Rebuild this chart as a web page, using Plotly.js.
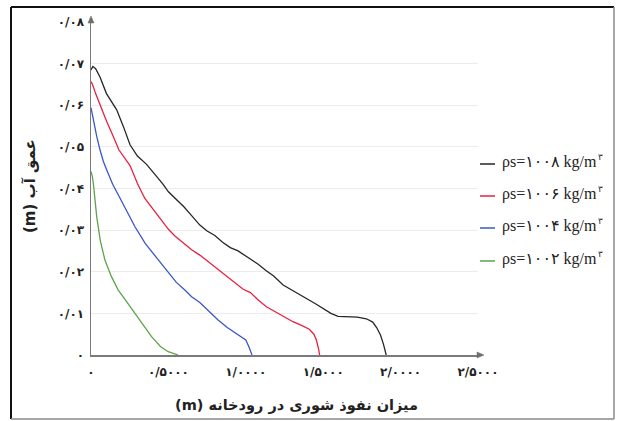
<!DOCTYPE html>
<html>
<head>
<meta charset="utf-8">
<script src="https://cdn.plot.ly/plotly-3.0.1.min.js"></script>
<style>html,body{margin:0;padding:0;background:#fff;}#chart{width:618px;height:421px;}</style>
</head>
<body>
<div id="chart"></div>
<script>
// ---- data ----
const seriesNames = ["ρs=۱۰۰۸ kg/m", "ρs=۱۰۰۶ kg/m", "ρs=۱۰۰۴ kg/m", "ρs=۱۰۰۲ kg/m"];
const unitExponent = "۳";
const seriesColors = ["#262626", "#e8203f", "#3b56c9", "#5ea24c"];

const x1008 = [0, 0.012, 0.03, 0.058, 0.10, 0.166, 0.21, 0.252, 0.30, 0.359, 0.41, 0.466, 0.50, 0.553, 0.60, 0.65, 0.703, 0.75, 0.80, 0.85, 0.90, 0.95, 0.983, 1.03, 1.08, 1.13, 1.18, 1.241, 1.30, 1.35, 1.40, 1.45, 1.50, 1.55, 1.596, 1.65, 1.72, 1.779, 1.82, 1.845, 1.87, 1.89, 1.907];
const d1008 = [0.0685, 0.0693, 0.0688, 0.0668, 0.0628, 0.0589, 0.0548, 0.0505, 0.0478, 0.0458, 0.0435, 0.0410, 0.0392, 0.0374, 0.0356, 0.0335, 0.0312, 0.0298, 0.0287, 0.0271, 0.0258, 0.0250, 0.0242, 0.0230, 0.0218, 0.0203, 0.0190, 0.0168, 0.0156, 0.0146, 0.0134, 0.0123, 0.0112, 0.0100, 0.0093, 0.0092, 0.0091, 0.0087, 0.0079, 0.0066, 0.0048, 0.0025, 0];

const x1006 = [0, 0.01, 0.03, 0.058, 0.10, 0.144, 0.18, 0.252, 0.30, 0.348, 0.40, 0.45, 0.50, 0.542, 0.60, 0.65, 0.703, 0.75, 0.80, 0.85, 0.90, 0.929, 0.983, 1.03, 1.08, 1.133, 1.19, 1.252, 1.305, 1.36, 1.41, 1.44, 1.456, 1.47, 1.477];
const d1006 = [0.0657, 0.0650, 0.0628, 0.0600, 0.0562, 0.0525, 0.0493, 0.0455, 0.0412, 0.0376, 0.0350, 0.0326, 0.0302, 0.0286, 0.0268, 0.0253, 0.0240, 0.0226, 0.0212, 0.0196, 0.0182, 0.0172, 0.0158, 0.0150, 0.0132, 0.0116, 0.0104, 0.0090, 0.0080, 0.0071, 0.0062, 0.0050, 0.0036, 0.0015, 0];

const x1004 = [0, 0.01, 0.02, 0.037, 0.058, 0.08, 0.101, 0.14, 0.176, 0.23, 0.284, 0.35, 0.434, 0.50, 0.55, 0.606, 0.65, 0.703, 0.76, 0.821, 0.88, 0.93, 0.972, 1.00, 1.02, 1.04];
const d1004 = [0.0594, 0.0575, 0.0550, 0.0525, 0.0493, 0.0465, 0.0445, 0.0410, 0.0385, 0.0345, 0.0308, 0.0268, 0.0228, 0.0198, 0.0175, 0.0156, 0.0140, 0.0126, 0.0106, 0.0084, 0.0066, 0.0054, 0.0044, 0.0036, 0.0020, 0];

const x1002 = [0, 0.008, 0.015, 0.026, 0.037, 0.06, 0.09, 0.13, 0.176, 0.23, 0.284, 0.34, 0.391, 0.45, 0.499, 0.563];
const d1002 = [0.0441, 0.0430, 0.0413, 0.0373, 0.0332, 0.0275, 0.0228, 0.0190, 0.0156, 0.0128, 0.0100, 0.0070, 0.0044, 0.0020, 0.0008, 0];

const xTickVals = [0, 0.5, 1.0, 1.5, 2.0, 2.5];
const xTickText = ["۰", "۰/۵۰۰۰", "۱/۰۰۰۰", "۱/۵۰۰۰", "۲/۰۰۰۰", "۲/۵۰۰۰"];
const yTickVals = [0, 0.01, 0.02, 0.03, 0.04, 0.05, 0.06, 0.07, 0.08];
const yTickText = ["۰", "۰/۰۱", "۰/۰۲", "۰/۰۳", "۰/۰۴", "۰/۰۵", "۰/۰۶", "۰/۰۷", "۰/۰۸"];

const xTitle = "میزان نفوذ شوری در رودخانه (m)";
const yTitle = "عمق آب (m)";

// ---- build ----
const RLE = "\u202B", PDF = "\u202C";
const LEG_SIZE = 16, LEG_FONT = "Liberation Serif";
const xs = [x1008, x1006, x1004, x1002];
const ds = [d1008, d1006, d1004, d1002];
const traces = xs.map((x, i) => ({
  type: "scatter", mode: "lines", x: x, y: ds[i], name: seriesNames[i] + unitExponent,
  line: {color: seriesColors[i], width: 1.3, shape: "linear"},
  showlegend: false, hoverinfo: "skip"
}));

// plot area geometry (pixels) used for paper-referenced decorations
const W = 618, H = 421, L = 91, R = 140, T = 22, B = 66;
const pw = W - L - R, ph = H - T - B;
const px = v => (v - L) / pw;
const py = v => (H - B - v) / ph;

const shapes = [];
const annotations = [];

// outer frame
shapes.push({type: "line", xref: "paper", yref: "paper", x0: px(11), x1: px(11), y0: py(7), y1: py(419), line: {color: "#111", width: 2}});
shapes.push({type: "line", xref: "paper", yref: "paper", x0: px(11), x1: px(614), y0: py(7), y1: py(7), line: {color: "#111", width: 2}});
shapes.push({type: "line", xref: "paper", yref: "paper", x0: px(614), x1: px(614), y0: py(7), y1: py(419), line: {color: "#8a8a8a", width: 1.5}});
shapes.push({type: "line", xref: "paper", yref: "paper", x0: px(11), x1: px(614), y0: py(419), y1: py(419), line: {color: "#8a8a8a", width: 1.5}});

// axis arrowheads (pixel-sized, anchored at axis ends)
shapes.push({type: "path", xref: "paper", yref: "paper", xsizemode: "pixel", ysizemode: "pixel", xanchor: 0, yanchor: 1,
  path: "M-3,-1 L3,-1 L0,6 Z", fillcolor: "#6e6e6e", line: {color: "#6e6e6e", width: 0.5}});
shapes.push({type: "path", xref: "paper", yref: "paper", xsizemode: "pixel", ysizemode: "pixel", xanchor: 1, yanchor: 0,
  path: "M-1,-3 L-1,3 L6,0 Z", fillcolor: "#6e6e6e", line: {color: "#6e6e6e", width: 0.5}});

// manual legend (main text + separate small exponent)
const ctx = document.createElement("canvas").getContext("2d");
ctx.font = LEG_SIZE + "px '" + LEG_FONT + "', 'DejaVu Sans'";
const legY = [164, 196, 228, 261];
const textX = 501;
seriesNames.forEach((n, i) => {
  shapes.push({type: "line", xref: "paper", yref: "paper", x0: px(480), x1: px(495), y0: py(legY[i]), y1: py(legY[i]), line: {color: seriesColors[i], width: 1.5}});
  annotations.push({xref: "paper", yref: "paper", x: px(textX), y: py(legY[i] - 2), xanchor: "left", yanchor: "middle", text: n, showarrow: false, borderpad: 0, font: {family: LEG_FONT + ", DejaVu Sans", size: LEG_SIZE, color: "#222"}});
  const w = ctx.measureText(n).width;
  annotations.push({xref: "paper", yref: "paper", x: px(textX + w + 1), y: py(legY[i] - 7), xanchor: "left", yanchor: "middle", text: unitExponent, showarrow: false, borderpad: 0, font: {family: "DejaVu Sans", size: 9, color: "#222"}});
});

// titles (right-to-left embedding so "(m)" sits on the left like the reference)
annotations.push({xref: "paper", yref: "paper", x: px(296), y: py(405), xanchor: "center", yanchor: "middle", text: RLE + xTitle + PDF, showarrow: false, font: {family: "DejaVu Sans", size: 14.5, color: "#222", weight: "bold"}});
annotations.push({xref: "paper", yref: "paper", x: px(30), y: py(186), xanchor: "center", yanchor: "middle", textangle: -90, text: RLE + yTitle + PDF, showarrow: false, font: {family: "DejaVu Sans", size: 15, color: "#222", weight: "bold"}});

const layout = {
  width: W, height: H,
  margin: {l: L, r: R, t: T, b: B, pad: 0},
  paper_bgcolor: "#ffffff", plot_bgcolor: "#ffffff",
  showlegend: false,
  xaxis: {
    range: [0, 2.5], showgrid: false, zeroline: false,
    showline: true, linecolor: "#7a7a7a", linewidth: 1.5,
    tickmode: "array", tickvals: xTickVals, ticktext: xTickText, ticks: "",
    ticklabelstandoff: 5,
    tickfont: {family: "DejaVu Sans", size: 12, color: "#222", weight: "bold"}
  },
  yaxis: {
    range: [0, 0.08], showgrid: true, gridcolor: "#ececec", gridwidth: 1, zeroline: false,
    showline: true, linecolor: "#7a7a7a", linewidth: 1.5,
    tickmode: "array", tickvals: yTickVals, ticktext: yTickText, ticks: "",
    ticklabelstandoff: 3,
    tickfont: {family: "DejaVu Sans", size: 12, color: "#222", weight: "bold"}
  },
  shapes: shapes,
  annotations: annotations
};

Plotly.newPlot("chart", traces, layout, {displayModeBar: false, staticPlot: true});
</script>
</body>
</html>
